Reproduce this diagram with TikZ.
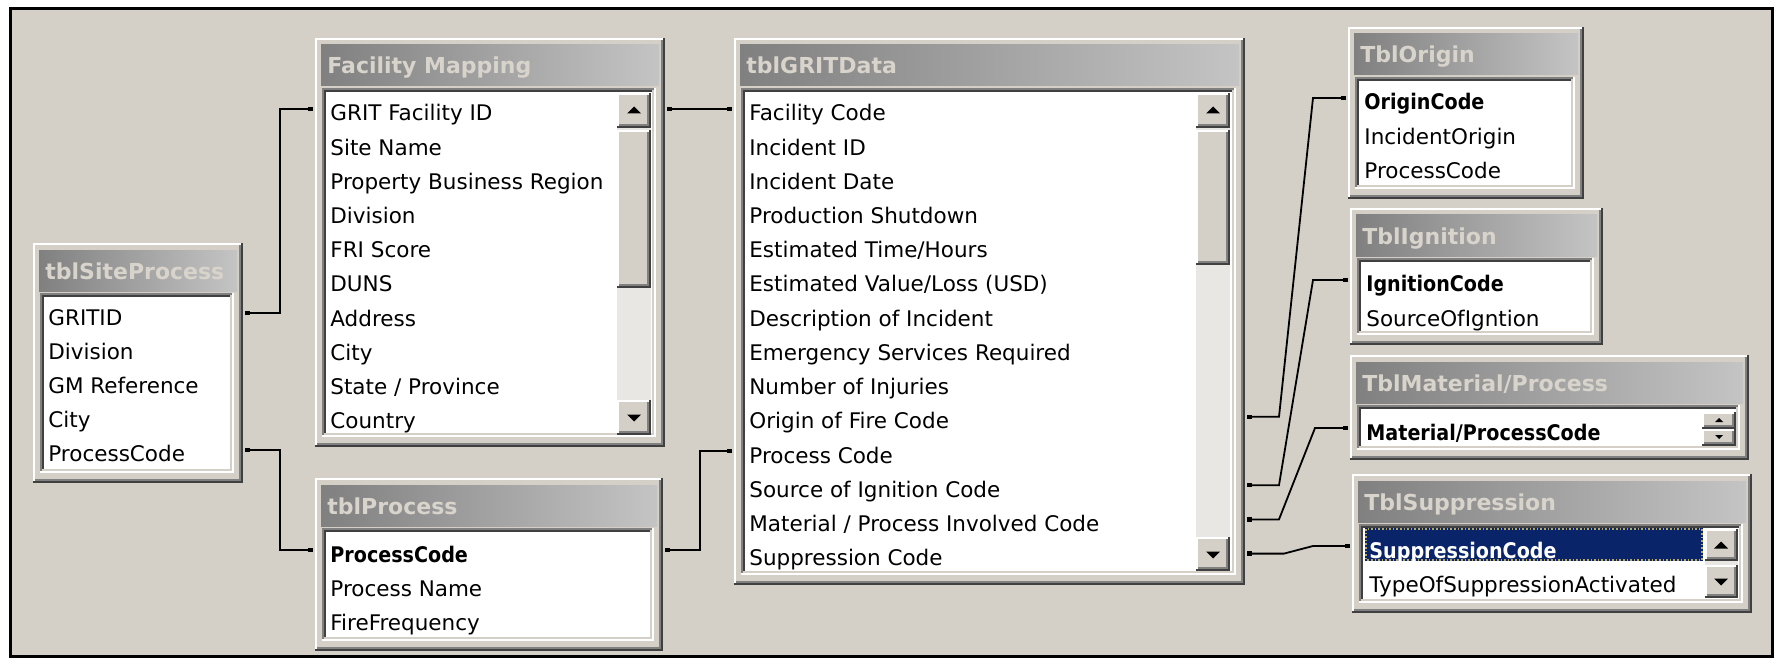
\documentclass[tikz,border=0pt]{standalone}
\usepackage{fontspec}
\setmainfont{DejaVu Sans}
\newfontfamily\keyfont{DejaVu Sans}[FakeStretch=0.89]
\usetikzlibrary{fit,calc,arrows.meta}
\definecolor{winbg}{HTML}{D4D0C8}
\definecolor{dkA}{HTML}{404040}
\definecolor{dkB}{HTML}{808080}
\definecolor{ttlA}{HTML}{808080}
\definecolor{ttlB}{HTML}{C4C4C4}
\definecolor{ttltx}{HTML}{D8D4CC}
\definecolor{selbg}{HTML}{0A246A}
\definecolor{trackc}{HTML}{E9E7E3}
\definecolor{focusc}{HTML}{B8A860}
\tikzset{
  fld/.style={font=\fontsize{10.75pt}{12pt}\selectfont, inner sep=0pt, anchor=base west, text=black},
  ttltext/.style={font=\bfseries\fontsize{11pt}{12pt}\selectfont, text=ttltx, inner sep=0pt, anchor=base west},
  rel/.style={line width=0.9pt, black, arrows={Square[length=2.5pt,width=2.2pt,sep=1pt]-Square[length=2.5pt,width=2.2pt,sep=1pt]}},
  tblframe/.style={inner sep=0pt, outer sep=0pt},
}
\newcommand\winraised[4]{%
  \fill[winbg] (#1,#2) rectangle (#3,#4);
  \draw[white,line width=1pt] ({#1+1},{#4-2}) -- ({#1+1},{#2+1}) -- ({#3-2},{#2+1});
  \draw[dkA,line width=1pt] ({#1},{#4-1}) -- ({#3-1},{#4-1}) -- ({#3-1},{#2});
  \draw[dkB,line width=1pt] ({#1+2},{#4-3}) -- ({#3-3},{#4-3}) -- ({#3-3},{#2+2});
}
\newcommand\winsunken[4]{%
  \fill[white] (#1,#2) rectangle (#3,#4);
  \draw[dkB,line width=1pt] ({#1+1},{#4}) -- ({#1+1},{#2+1}) -- ({#3},{#2+1});
  \draw[dkA,line width=1pt] ({#1+3},{#4-2}) -- ({#1+3},{#2+3}) -- ({#3-2},{#2+3});
  \draw[white,line width=1pt] ({#1},{#4-1}) -- ({#3-1},{#4-1}) -- ({#3-1},{#2});
  \draw[winbg,line width=1pt] ({#1+2},{#4-3}) -- ({#3-3},{#4-3}) -- ({#3-3},{#2+2});
}
\newcommand\dbtable[6]{%
  \winraised{#2}{#3}{#4}{#5}
  \shade[left color=ttlA,right color=ttlB] ({#2+6},{#3+7}) rectangle ({#4-6},{#3+48});
  \node[ttltext] (#1-t) at ({#2+12},{#3+36}) {#6};
  \winsunken{#2+7}{#3+50}{#4-9}{#5-10}
  \node[tblframe, fit={(#2,#3) (#4,#5)}] (#1) {};
}
\newcommand\dbrows[4]{%
  \foreach \t [count=\k from 0] in {#4} {
    \coordinate (#1-r\k) at (#2,{#3+34.2*\k});
    \node[fld] (#1-f\k) at (#2,{#3+34.2*\k+12}) {\t};
  }
}
\newcommand\uptri[2]{\fill[black] ({#1-7},{#2+3.5}) -- ({#1+7},{#2+3.5}) -- (#1,{#2-3.5}) -- cycle;}
\newcommand\dntri[2]{\fill[black] ({#1-7},{#2-3.5}) -- ({#1+7},{#2-3.5}) -- (#1,{#2+3.5}) -- cycle;}
\newcommand\smuptri[2]{\fill[black] ({#1-4},{#2+2}) -- ({#1+4},{#2+2}) -- (#1,{#2-2}) -- cycle;}
\newcommand\smdntri[2]{\fill[black] ({#1-4},{#2-2}) -- ({#1+4},{#2-2}) -- (#1,{#2+2}) -- cycle;}
\begin{document}
\begin{tikzpicture}[x=0.5pt,y=-0.5pt]
\useasboundingbox (0,0) rectangle (1774,658);
\fill[white] (0,0) rectangle (1774,658);
\fill[winbg] (10,8.5) rectangle (1772.5,656.5);
\draw[black,line width=1.5pt] (10,8.5) rectangle (1772.5,656.5);

% ---- tables ----
\dbtable{sp}{33}{243}{243}{483}{tblSiteProcess}
\dbrows{sp}{48}{313}{GRITID, Division, GM Reference, City, ProcessCode}

\dbtable{fm}{315}{38}{665}{447}{Facility Mapping}
\fill[trackc] (617,128) rectangle (651,400);
\winraised{617}{93}{651}{128}\uptri{634}{110}
\winraised{617}{130}{651}{288}
\winraised{617}{400}{651}{435}\dntri{634}{418}
\dbrows{fm}{330}{109}{GRIT Facility ID, Site Name, Property Business Region, Division, FRI Score, DUNS, Address, City, State / Province, Country}

\dbtable{p}{315}{478}{663}{651}{tblProcess}
\dbrows{p}{330}{550}{{\keyfont\bfseries ProcessCode}, Process Name, FireFrequency}

\dbtable{g}{734}{38}{1245}{585}{tblGRITData}
\fill[trackc] (1196,128) rectangle (1230,537);
\winraised{1196}{93}{1230}{128}\uptri{1213}{110}
\winraised{1196}{130}{1230}{265}
\winraised{1196}{537}{1230}{571}\dntri{1213}{555}
\dbrows{g}{749}{109}{Facility Code, Incident ID, Incident Date, Production Shutdown, Estimated Time/Hours, Estimated Value/Loss (USD), Description of Incident, Emergency Services Required, Number of Injuries, Origin of Fire Code, Process Code, Source of Ignition Code, Material / Process Involved Code, Suppression Code}

\dbtable{o}{1348}{27}{1584}{199}{TblOrigin}
\dbrows{o}{1364}{98}{{\keyfont\bfseries OriginCode}, IncidentOrigin, ProcessCode}

\dbtable{ign}{1350}{208}{1603}{345}{TblIgnition}
\dbrows{ign}{1366}{280}{{\keyfont\bfseries IgnitionCode}, SourceOfIgntion}

\dbtable{m}{1350}{355}{1749}{460}{TblMaterial/Process}
\winraised{1702}{412}{1736}{429}\smuptri{1719}{420}
\winraised{1702}{429}{1736}{446}\smdntri{1719}{437}
\dbrows{m}{1366}{428}{{\keyfont\bfseries Material/ProcessCode}}

\dbtable{s}{1352}{474}{1752}{613}{TblSuppression}
\fill[selbg] (1365,528) rectangle (1703,561);
\draw[focusc,line width=0.8pt,densely dotted] (1366,529) rectangle (1702,560);
\fill[trackc] (1705,560) rectangle (1738,566);
\winraised{1705}{529}{1738}{561}\uptri{1721}{545}
\winraised{1705}{565}{1738}{598}\dntri{1721}{582}
\dbrows{s}{1369}{546}{{\color{white}\keyfont\bfseries SuppressionCode}, TypeOfSuppressionActivated}

% ---- relationships ----
\draw[rel] (sp.east |- sp-r0) -- ++(37,0) |- (fm.west |- fm-r0);
\draw[rel] (sp.east |- sp-r4) -- ++(37,0) |- (p.west |- p-r0);
\draw[rel] (fm.east |- fm-r0) -- (g.west |- g-r0);
\draw[rel] (p.east |- p-r0) -- ++(37,0) |- (g.west |- g-r10);
\draw[rel] (g.east |- g-r9) -- ++(34,0) -- ($(o.west |- o-r0)+(-35,0)$) -- (o.west |- o-r0);
\draw[rel] (g.east |- g-r11) -- ++(34,0) -- ($(ign.west |- ign-r0)+(-37,0)$) -- (ign.west |- ign-r0);
\draw[rel] (g.east |- g-r12) -- ++(34,0) -- ($(m.west |- m-r0)+(-35,0)$) -- (m.west |- m-r0);
\draw[rel] (g.east |- g-r13) -- ++(39,0) -- ($(s.west |- s-r0)+(-39,0)$) -- (s.west |- s-r0);
\end{tikzpicture}
\end{document}
